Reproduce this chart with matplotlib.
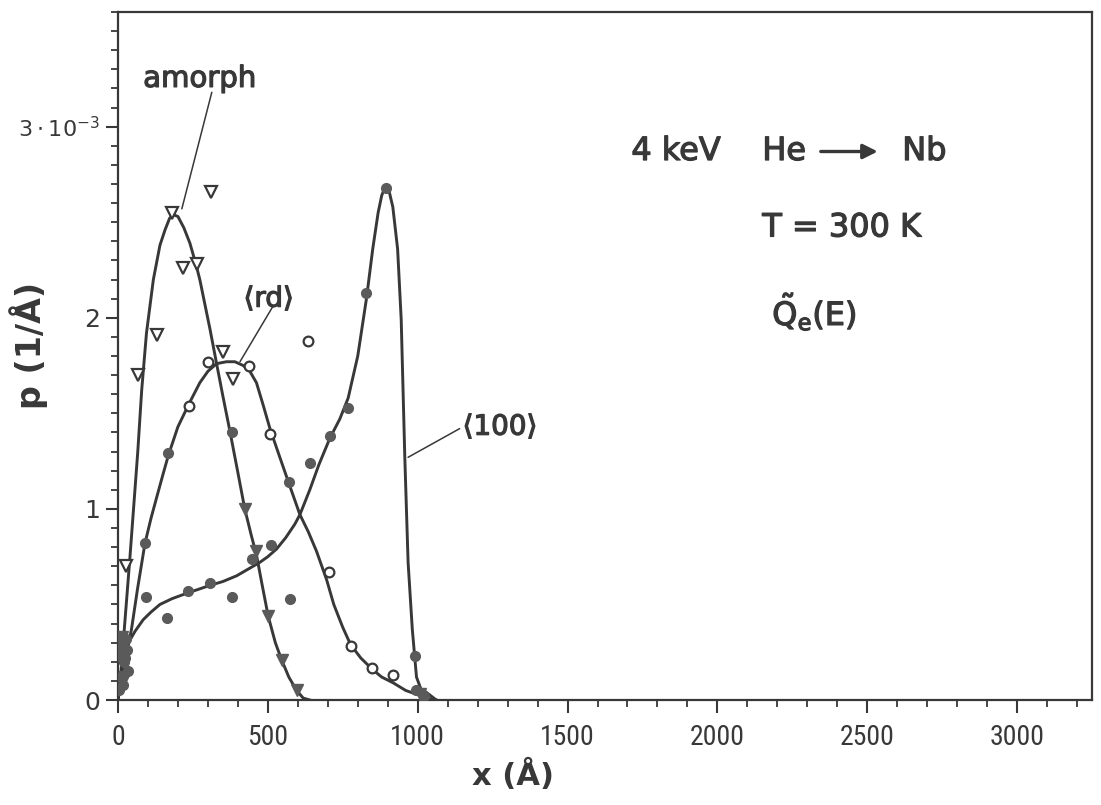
import matplotlib
matplotlib.use("Agg")
import matplotlib.pyplot as plt
from matplotlib.ticker import MultipleLocator
from matplotlib import font_manager
import matplotlib.patheffects as pe

# ---------------------------------------------------------------#
# data (p in units of 1e-3 1/A, x in A)
# ---------------------------------------------------------------#
# fitted curves
am_cx = [0, 7, 20, 40, 66, 79, 95, 118, 140, 157, 172, 184, 200, 220, 240, 260,
         273, 290, 307, 329, 350, 373, 400, 423, 445, 462, 480, 501, 525, 546,
         570, 596, 618, 640]
am_cy = [0.0, 0.09, 0.35, 0.75, 1.30, 1.62, 1.92, 2.20, 2.38, 2.46, 2.52, 2.54,
         2.53, 2.47, 2.39, 2.28, 2.20, 2.07, 1.94, 1.76, 1.59, 1.41, 1.19, 1.00,
         0.86, 0.76, 0.61, 0.44, 0.30, 0.21, 0.12, 0.05, 0.01, 0.0]

rd_cx = [0, 20, 45, 65, 90, 110, 129, 150, 168, 200, 237, 273, 300, 329, 362,
         390, 418, 440, 462, 485, 507, 540, 571, 607, 635, 662, 696, 720, 750,
         776, 810, 849, 880, 918, 960, 996, 1030, 1062]
rd_cy = [0.0, 0.18, 0.37, 0.58, 0.82, 0.95, 1.06, 1.18, 1.28, 1.43, 1.55, 1.66,
         1.72, 1.76, 1.77, 1.77, 1.75, 1.72, 1.66, 1.54, 1.42, 1.27, 1.13, 0.97,
         0.88, 0.78, 0.63, 0.50, 0.38, 0.29, 0.22, 0.16, 0.12, 0.09, 0.05, 0.03,
         0.01, 0.0]

c100_cx = [0, 10, 20, 35, 57, 84, 110, 140, 180, 232, 270, 307, 350, 396, 440,
           473, 500, 529, 560, 590, 607, 640, 670, 707, 740, 768, 800, 829, 850,
           868, 880, 893, 905, 917, 933, 945, 952, 957, 968, 982, 996, 1010,
           1029, 1062]
c100_cy = [0.0, 0.12, 0.22, 0.30, 0.36, 0.42, 0.46, 0.50, 0.53, 0.56, 0.58,
           0.60, 0.62, 0.65, 0.69, 0.72, 0.75, 0.79, 0.85, 0.92, 0.97, 1.10,
           1.23, 1.37, 1.47, 1.58, 1.80, 2.10, 2.36, 2.55, 2.64, 2.69, 2.66,
           2.58, 2.36, 1.99, 1.57, 1.27, 0.72, 0.37, 0.12, 0.06, 0.04, 0.0]

# measured points
tri_open_x = [27, 68, 129, 179, 216, 264, 309, 349, 384]
tri_open_y = [0.70, 1.70, 1.91, 2.55, 2.26, 2.28, 2.66, 1.82, 1.68]

tri_fill_x = [423, 462, 501, 546, 596, 8, 16, 24, 12, 1008]
tri_fill_y = [1.00, 0.78, 0.44, 0.21, 0.05, 0.22, 0.30, 0.12, 0.33, 0.03]

dot_fill_x = [379, 90, 168, 571, 34, 93, 162, 232, 307, 381, 446, 512, 573,
              642, 707, 768, 829, 893, 990, 5, 12, 20, 28, 10, 30, 18, 25, 6,
              995, 1020]
dot_fill_y = [1.40, 0.82, 1.29, 1.14, 0.15, 0.54, 0.43, 0.57, 0.61, 0.54, 0.74,
              0.81, 0.53, 1.24, 1.38, 1.53, 2.13, 2.68, 0.23, 0.05, 0.30, 0.20,
              0.32, 0.12, 0.26, 0.08, 0.22, 0.28, 0.05, 0.02]

circ_open_x = [237, 301, 438, 507, 634, 704, 776, 849, 918]
circ_open_y = [1.54, 1.77, 1.75, 1.39, 1.88, 0.67, 0.28, 0.17, 0.13]

xticks = [0, 500, 1000, 1500, 2000, 2500, 3000]
yticks = [0, 1, 2, 3]
ylabels = ['0', '1', '2', r'$3\cdot10^{-3}$']

ink = '#383838'
grey = '#5a5a5a'

plt.rcParams['mathtext.fontset'] = 'dejavusans'

# narrow face for the x tick numbers, if one is installed
fonts = font_manager.fontManager.ttflist
names = {f.name for f in fonts}
narrow = dict(family='DejaVu Sans', fontsize=17)
for n in ['Roboto Condensed', 'Liberation Sans Narrow', 'Open Sans Condensed', 'Arial Narrow']:
    if n in names:
        narrow = dict(family=n, fontsize=20)
        break
else:
    if any(f.name == 'DejaVu Sans' and f.stretch == 'condensed' for f in fonts):
        narrow = dict(family='DejaVu Sans', fontstretch='condensed', fontsize=18)

thick = [pe.withStroke(linewidth=0.9, foreground=ink)]

fig = plt.figure(figsize=(11.01, 8.05), dpi=100)
ax = fig.add_axes([118/1101, 1-700/805, (1092-118)/1101, (700-12)/805])

ax.plot(am_cx, am_cy, color=ink, lw=2.1, zorder=3)
ax.plot(rd_cx, rd_cy, color=ink, lw=2.1, zorder=3)
ax.plot(c100_cx, c100_cy, color=ink, lw=2.1, zorder=3)

ax.plot(tri_open_x, tri_open_y, 'v', ms=8, mfc='white', mec=ink, mew=1.6, ls='none', zorder=5)
ax.plot(tri_fill_x, tri_fill_y, 'v', ms=8, mfc=grey, mec=grey, ls='none', zorder=5)
ax.plot(dot_fill_x, dot_fill_y, 'o', ms=7, mfc=grey, mec=grey, ls='none', zorder=5)
ax.plot(circ_open_x, circ_open_y, 'o', ms=7, mfc='white', mec=ink, mew=1.6, ls='none', zorder=5)

ax.set_xlim(0, 3250)
ax.set_ylim(0, 3.6)

ax.set_xticks(xticks)
ax.set_xticklabels([str(t) for t in xticks], color=ink, **narrow)
ax.set_yticks(yticks)
ax.set_yticklabels(ylabels, fontsize=18, color=ink)
ax.get_yticklabels()[3].set_fontsize(16)
ax.xaxis.set_minor_locator(MultipleLocator(100))
ax.yaxis.set_minor_locator(MultipleLocator(0.1))
ax.tick_params(which='major', direction='out', length=9, width=1.5, color=ink)
ax.tick_params(which='minor', direction='out', length=5, width=1.3, color=ink)
ax.tick_params(axis='x', which='major', pad=8)
ax.tick_params(axis='y', which='major', pad=4)

for s in ax.spines.values():
    s.set_linewidth(1.6)
    s.set_color(ink)

ax.set_xlabel('x (Å)', fontsize=22, fontweight='bold', color=ink)
ax.xaxis.set_label_coords(0.406, -0.085)
ax.set_ylabel('p (1/Å)', fontsize=24, fontweight='bold', color=ink)
ax.yaxis.set_label_coords(-0.072, 0.515)

# curve labels with leader lines
lp = dict(arrowstyle='-', color=ink, lw=1.1, shrinkA=0, shrinkB=0)
ax.text(273, 3.25, 'amorph', fontsize=21, ha='center', va='center', color=ink, path_effects=thick)
ax.annotate('', xy=(213, 2.57), xytext=(313, 3.18), arrowprops=lp)
ax.text(503, 2.10, '⟨rd⟩', fontsize=20, ha='center', va='center', color=ink, path_effects=thick)
ax.annotate('', xy=(407, 1.77), xytext=(517, 2.06), arrowprops=lp)
ax.text(1150, 1.43, '⟨100⟩', fontsize=20, ha='left', va='center', color=ink, path_effects=thick)
ax.annotate('', xy=(968, 1.27), xytext=(1140, 1.42), arrowprops=lp)

# conditions
big = dict(fontsize=23, ha='left', va='center', color=ink, path_effects=thick)
ax.text(1713, 2.87, '4 keV', **big)
ax.text(2150, 2.87, 'He', **big)
ax.annotate('', xy=(2535, 2.87), xytext=(2345, 2.87),
            arrowprops=dict(arrowstyle='-|>', color=ink, lw=2.4, mutation_scale=22,
                            shrinkA=0, shrinkB=0))
ax.text(2617, 2.87, 'Nb', **big)
ax.text(2150, 2.47, 'T = 300 K', **big)
ax.text(2183, 2.03, r'$\tilde{\mathrm{Q}}_{\mathrm{e}}\mathrm{(E)}$', **big)

fig.savefig('out.png', dpi=100)
